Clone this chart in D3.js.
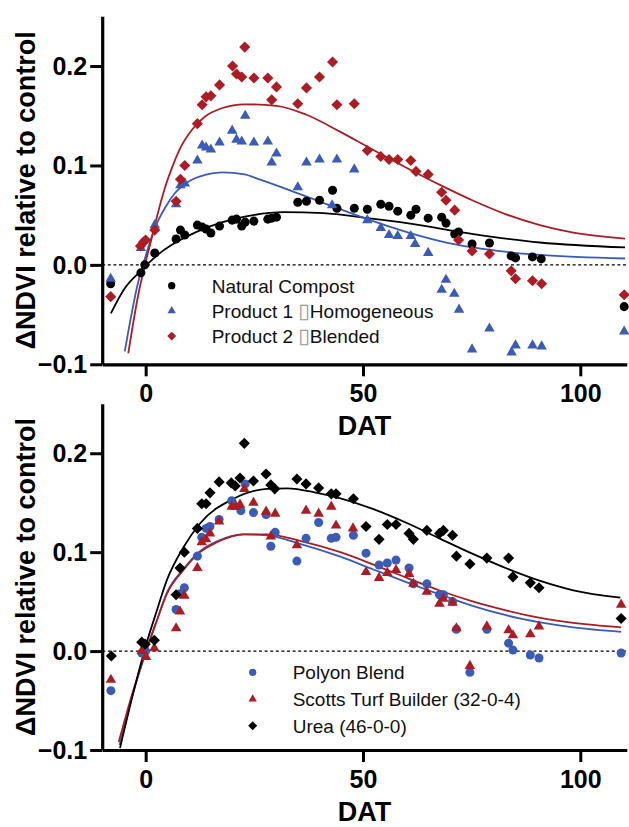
<!DOCTYPE html>
<html>
<head>
<meta charset="utf-8">
<script src="https://cdn.jsdelivr.net/npm/d3@7"></script>
<style>
  body { margin: 0; background: #fff; }
  svg { display: block; font-family: "Liberation Sans", Arial, sans-serif; }
</style>
</head>
<body>
<div id="chart"></div>
<script>
// tick values shared by both panels
var xTicks = [0, 50, 100];
var yTicks = [-0.1, 0.0, 0.1, 0.2];

// top panel - observed points [DAT, dNDVI]
var naturalCompost = [[-8.05,-0.019],[-1.1,-0.008],[-0.2,0.0],[2.1,0.012],[7.0,0.026],[8.0,0.035],[9.0,0.030],[11.9,0.040],[13.0,0.038],[13.9,0.036],[15.0,0.032],[17.0,0.039],[19.9,0.045],[20.9,0.046],[22.1,0.039],[22.9,0.043],[24.9,0.044],[28.1,0.046],[29.0,0.047],[30.1,0.048],[35.0,0.063],[37.0,0.064],[40.0,0.065],[43.0,0.075],[44.0,0.057],[48.0,0.057],[51.0,0.056],[54.1,0.061],[56.0,0.059],[58.0,0.054],[61.0,0.050],[62.2,0.056],[65.0,0.047],[68.1,0.048],[69.1,0.042],[71.1,0.031],[72.0,0.033],[75.1,0.021],[79.1,0.022],[84.1,0.009],[85.1,0.007],[89.0,0.008],[91.0,0.006],[110.1,-0.042]];
var product1 = [[-8.05,-0.014],[-1.1,0.017],[2.1,0.040],[7.0,0.061],[8.0,0.080],[9.0,0.082],[11.9,0.105],[13.0,0.120],[13.9,0.118],[15.0,0.116],[17.0,0.123],[19.9,0.135],[20.9,0.126],[22.1,0.124],[22.9,0.150],[24.9,0.123],[28.1,0.124],[29.0,0.103],[30.1,0.112],[35.0,0.078],[37.0,0.103],[40.0,0.106],[42.9,0.060],[44.0,0.106],[48.0,0.096],[51.0,0.045],[54.1,0.037],[56.0,0.030],[58.0,0.029],[61.0,0.029],[62.0,0.021],[65.0,0.012],[68.1,-0.025],[69.1,-0.015],[71.0,-0.029],[72.1,-0.045],[75.1,-0.085],[79.1,-0.064],[84.2,-0.088],[85.1,-0.081],[89.0,-0.081],[91.1,-0.082],[110.1,-0.067]];
var product2 = [[-8.05,-0.032],[-1.2,0.019],[-0.5,0.023],[0.0,0.025],[2.1,0.035],[7.0,0.064],[8.0,0.086],[9.0,0.100],[11.9,0.142],[13.0,0.161],[13.9,0.169],[15.0,0.170],[17.0,0.181],[20.0,0.200],[20.9,0.192],[22.1,0.189],[22.8,0.219],[24.9,0.188],[28.1,0.188],[29.0,0.166],[30.1,0.179],[35.0,0.162],[37.0,0.178],[40.0,0.189],[43.0,0.204],[44.0,0.161],[48.0,0.162],[51.0,0.115],[54.1,0.109],[56.0,0.106],[58.0,0.106],[61.0,0.105],[62.2,0.094],[65.0,0.091],[68.1,0.073],[69.1,0.065],[71.1,0.055],[72.0,0.025],[75.1,0.014],[79.1,0.011],[84.1,-0.006],[85.1,-0.014],[89.0,-0.016],[91.1,-0.019],[110.1,-0.030]];

// top panel - fitted curves
var compostFit = [[-8.0,-0.0487],[-4.8,-0.0235],[-1.7,-0.0085],[0.6,0.0016],[3.7,0.0133],[7.5,0.024],[12.1,0.034],[17.5,0.0428],[22.8,0.0485],[31.7,0.053],[40.9,0.052],[51,0.047],[60.1,0.042],[75.4,0.031],[90.7,0.0225],[110.3,0.0175]];
var product1Fit = [[-4.8,-0.087],[-1.7,-0.017],[-0.16,0.0066],[2.1,0.037],[4.4,0.057],[6.7,0.072],[9.8,0.0837],[13.6,0.0904],[17.5,0.093],[22.8,0.091],[25.5,0.087],[33.2,0.075],[42.9,0.059],[51,0.046],[60.1,0.033],[67.7,0.024],[75.4,0.0175],[83.1,0.013],[90.7,0.010],[110.3,0.0064]];
var product2Fit = [[-4.0,-0.089],[-1.7,-0.030],[-0.16,0.0],[1.4,0.027],[2.9,0.0535],[4.4,0.077],[6.0,0.097],[7.9,0.117],[10.6,0.1357],[13.6,0.149],[17.5,0.1575],[22.8,0.1615],[30.1,0.160],[37,0.151],[44.7,0.134],[52.4,0.1155],[60.1,0.0975],[67.7,0.0805],[75.4,0.0645],[83.1,0.0505],[90.7,0.040],[98.4,0.0325],[110.3,0.0265]];

// bottom panel - observed points
var polyonBlend = [[-8,-0.040],[-0.9,-0.002],[0,0.0],[7.0,0.042],[7.9,0.058],[8.9,0.064],[11.9,0.096],[12.9,0.115],[13.9,0.124],[14.8,0.126],[16.9,0.133],[19.8,0.152],[21.9,0.142],[22.9,0.169],[24.8,0.140],[27.7,0.138],[28.8,0.106],[29.8,0.120],[34.8,0.091],[36.9,0.114],[39.8,0.130],[42.7,0.114],[43.8,0.115],[47.8,0.117],[50.7,0.099],[53.7,0.087],[55.6,0.089],[57.6,0.092],[60.6,0.084],[61.6,0.068],[64.7,0.068],[67.6,0.057],[68.5,0.057],[70.6,0.050],[71.5,0.022],[74.6,-0.0215],[78.5,0.022],[83.5,0.008],[84.5,0.001],[88.5,-0.004],[90.5,-0.007],[109.4,-0.002]];
var scottsTurf = [[-8,-0.029],[-0.9,0.0],[0.1,-0.006],[2.0,0.003],[7.0,0.023],[7.9,0.040],[8.9,0.056],[11.9,0.084],[12.9,0.110],[13.9,0.113],[14.8,0.119],[16.9,0.131],[19.8,0.146],[20.8,0.146],[21.7,0.148],[22.7,0.164],[24.8,0.150],[27.7,0.141],[28.8,0.116],[29.8,0.139],[34.8,0.107],[36.9,0.142],[39.8,0.139],[42.7,0.146],[43.8,0.127],[47.7,0.124],[50.7,0.080],[53.7,0.074],[55.6,0.079],[57.6,0.082],[60.6,0.078],[61.6,0.068],[64.7,0.060],[67.6,0.048],[68.5,0.053],[70.6,0.049],[71.5,0.023],[74.6,-0.015],[78.5,0.025],[83.5,0.021],[84.5,0.016],[88.5,0.017],[90.5,0.025],[109.4,0.047]];
var urea = [[-7.9,-0.005],[-0.9,0.009],[-0.1,0.007],[2.0,0.011],[7.0,0.057],[7.9,0.084],[8.9,0.100],[11.9,0.124],[12.9,0.149],[13.9,0.149],[14.8,0.160],[16.9,0.171],[19.7,0.170],[20.6,0.167],[21.7,0.175],[22.7,0.210],[24.8,0.172],[27.7,0.179],[28.8,0.168],[29.7,0.164],[34.8,0.174],[36.9,0.169],[39.8,0.165],[42.7,0.159],[43.8,0.159],[47.8,0.154],[50.7,0.126],[53.7,0.113],[55.6,0.128],[57.6,0.128],[60.6,0.119],[61.6,0.113],[64.7,0.122],[67.6,0.119],[68.5,0.122],[70.6,0.117],[71.5,0.096],[74.6,0.088],[78.5,0.094],[83.5,0.094],[84.5,0.075],[88.5,0.069],[90.5,0.064],[109.4,0.033]];

// bottom panel - fitted curves
var polyonFit = [[-6.0,-0.095],[-3,-0.044],[0,-0.002],[2.5,0.030],[4.9,0.059],[8.7,0.083],[12.5,0.101],[16.4,0.111],[22.5,0.118],[27.9,0.117],[35.5,0.1085],[44.8,0.0955],[52.4,0.0825],[60.1,0.0695],[67.8,0.057],[75.4,0.0455],[83.1,0.036],[90.8,0.029],[98.4,0.024],[109.4,0.0195]];
var scottsFit = [[-6.2,-0.092],[-3,-0.042],[0,-0.001],[2.5,0.030],[4.9,0.058],[8.7,0.082],[12.5,0.100],[16.4,0.110],[22.5,0.118],[27.9,0.118],[35.5,0.1115],[44.8,0.100],[52.4,0.0875],[60.1,0.074],[67.8,0.061],[75.4,0.050],[83.1,0.041],[90.8,0.0335],[98.4,0.0285],[109.4,0.024]];
var ureaFit = [[-5.9,-0.098],[-3,-0.045],[0,0.005],[2.5,0.040],[4.9,0.072],[8.7,0.105],[12.5,0.129],[20.2,0.154],[27.9,0.164],[32.5,0.1645],[39.4,0.160],[44.8,0.1545],[52.4,0.1435],[60.1,0.1295],[67.8,0.1135],[75.4,0.098],[83.1,0.0835],[90.8,0.071],[98.4,0.0615],[109.2,0.054]];

var topLabels = ["Natural Compost", "Product 1 \u25AFHomogeneous", "Product 2 \u25AFBlended"];
var bottomLabels = ["Polyon Blend", "Scotts Turf Builder (32-0-4)", "Urea (46-0-0)"];

var BLUE = "#3a5cb6", RED = "#ab1d24", BLACK = "#000";

var svg = d3.select("#chart").append("svg")
  .attr("width", 629)
  .attr("height", 827);

var x = d3.scaleLinear().domain([-10, 110.7]).range([102.2, 626.8]);

var line = d3.line()
  .x(function(d) { return x(d[0]); })
  .curve(d3.curveMonotoneX);

function marker(type, size) {
  var shape = { circle: d3.symbolCircle, triangle: d3.symbolTriangle, diamond: d3.symbolSquare }[type];
  return d3.symbol().type(shape).size(size)();
}
var markerSize = { circle: 64, triangle: 48, diamond: 62 };
var legendSize = { circle: 42, triangle: 30, diamond: 40 };

function drawPanel(p) {
  var y = d3.scaleLinear().domain([-0.1, 0.25]).range([p.bottom, p.top]);
  var g = svg.append("g");

  // dashed zero reference
  g.append("line")
    .attr("x1", x(-10)).attr("x2", x(110.7))
    .attr("y1", y(0)).attr("y2", y(0))
    .attr("stroke", "#000").attr("stroke-width", 1.4)
    .attr("stroke-dasharray", "3,2.6");

  // fitted curves
  p.series.forEach(function(s) {
    line.y(function(d) { return y(d[1]); });
    g.append("path")
      .attr("d", line(s.fit))
      .attr("fill", "none")
      .attr("stroke", s.color)
      .attr("stroke-width", 1.8);
  });

  // observed points
  p.series.forEach(function(s) {
    g.selectAll(null)
      .data(s.points)
      .enter()
      .append("path")
      .attr("d", marker(s.shape, markerSize[s.shape]))
      .attr("fill", s.color)
      .attr("transform", function(d) {
        return "translate(" + x(d[0]) + "," + y(d[1]) + ")" + (s.shape == "diamond" ? " rotate(45)" : "");
      });
  });

  // axes
  var yAxis = g.append("g")
    .attr("transform", "translate(" + x(-10) + ",0)")
    .call(d3.axisLeft(y).tickValues(yTicks).tickFormat(d3.format(".1f")).tickSize(12).tickSizeOuter(0).tickPadding(3));
  var xAxis = g.append("g")
    .attr("transform", "translate(0," + y(-0.1) + ")")
    .call(d3.axisBottom(x).tickValues(xTicks).tickSize(12).tickSizeOuter(0).tickPadding(8));

  [yAxis, xAxis].forEach(function(a) {
    a.select(".domain").attr("stroke-width", 3.2);
    a.selectAll(".tick line").attr("stroke-width", 3);
    a.selectAll(".tick text")
      .attr("fill", "#000")
      .style("font-family", "'Liberation Sans', Arial, sans-serif")
      .style("font-size", "25px")
      .style("font-weight", "bold");
  });
  yAxis.selectAll(".tick text").attr("dy", "0.33em");

  // axis titles
  g.append("text")
    .attr("x", (x(-10) + x(110.7)) / 2)
    .attr("y", y(-0.1) + 71)
    .attr("text-anchor", "middle")
    .style("font-size", "27px")
    .style("font-weight", "bold")
    .text("DAT");

  g.append("text")
    .attr("transform", "translate(35," + ((p.top + p.bottom) / 2) + ") rotate(-90)")
    .attr("text-anchor", "middle")
    .style("font-size", "27px")
    .style("font-weight", "bold")
    .text("\u0394NDVI relative to control");

  // legend
  var legend = g.selectAll(".legend")
    .data(p.series)
    .enter()
    .append("g")
    .attr("class", "legend")
    .attr("transform", function(d, i) {
      return "translate(" + p.legendX + "," + (p.legendY + i * p.legendStep) + ")";
    });

  legend.append("path")
    .attr("d", function(d) { return marker(d.shape, legendSize[d.shape]); })
    .attr("fill", function(d) { return d.color; })
    .attr("transform", function(d) { return d.shape == "diamond" ? "rotate(45)" : null; });

  legend.append("text")
    .attr("x", 40)
    .attr("y", 7)
    .style("font-size", "19px")
    .style("fill", "#111")
    .each(function(d) {
      var parts = d.label.split("\u25AF");
      var t = d3.select(this);
      parts.forEach(function(part, i) {
        if (i > 0) {
          // the source figure shows a missing-glyph box here
          t.append("tspan").attr("fill", "#999").style("font-family", "'DejaVu Sans', sans-serif").style("font-size", "21px").text("\u25AF");
        }
        t.append("tspan").text(part);
      });
    });
}

drawPanel({
  top: 16.3, bottom: 364.3,
  legendX: 171.7, legendY: 285.7, legendStep: 25.2,
  series: [
    { points: naturalCompost, fit: compostFit, color: BLACK, shape: "circle", label: topLabels[0] },
    { points: product1, fit: product1Fit, color: BLUE, shape: "triangle", label: topLabels[1] },
    { points: product2, fit: product2Fit, color: RED, shape: "diamond", label: topLabels[2] }
  ]
});

drawPanel({
  top: 403.8, bottom: 750,
  legendX: 252.7, legendY: 672.3, legendStep: 26.7,
  series: [
    { points: polyonBlend, fit: polyonFit, color: BLUE, shape: "circle", label: bottomLabels[0] },
    { points: scottsTurf, fit: scottsFit, color: RED, shape: "triangle", label: bottomLabels[1] },
    { points: urea, fit: ureaFit, color: BLACK, shape: "diamond", label: bottomLabels[2] }
  ]
});
</script>
</body>
</html>
